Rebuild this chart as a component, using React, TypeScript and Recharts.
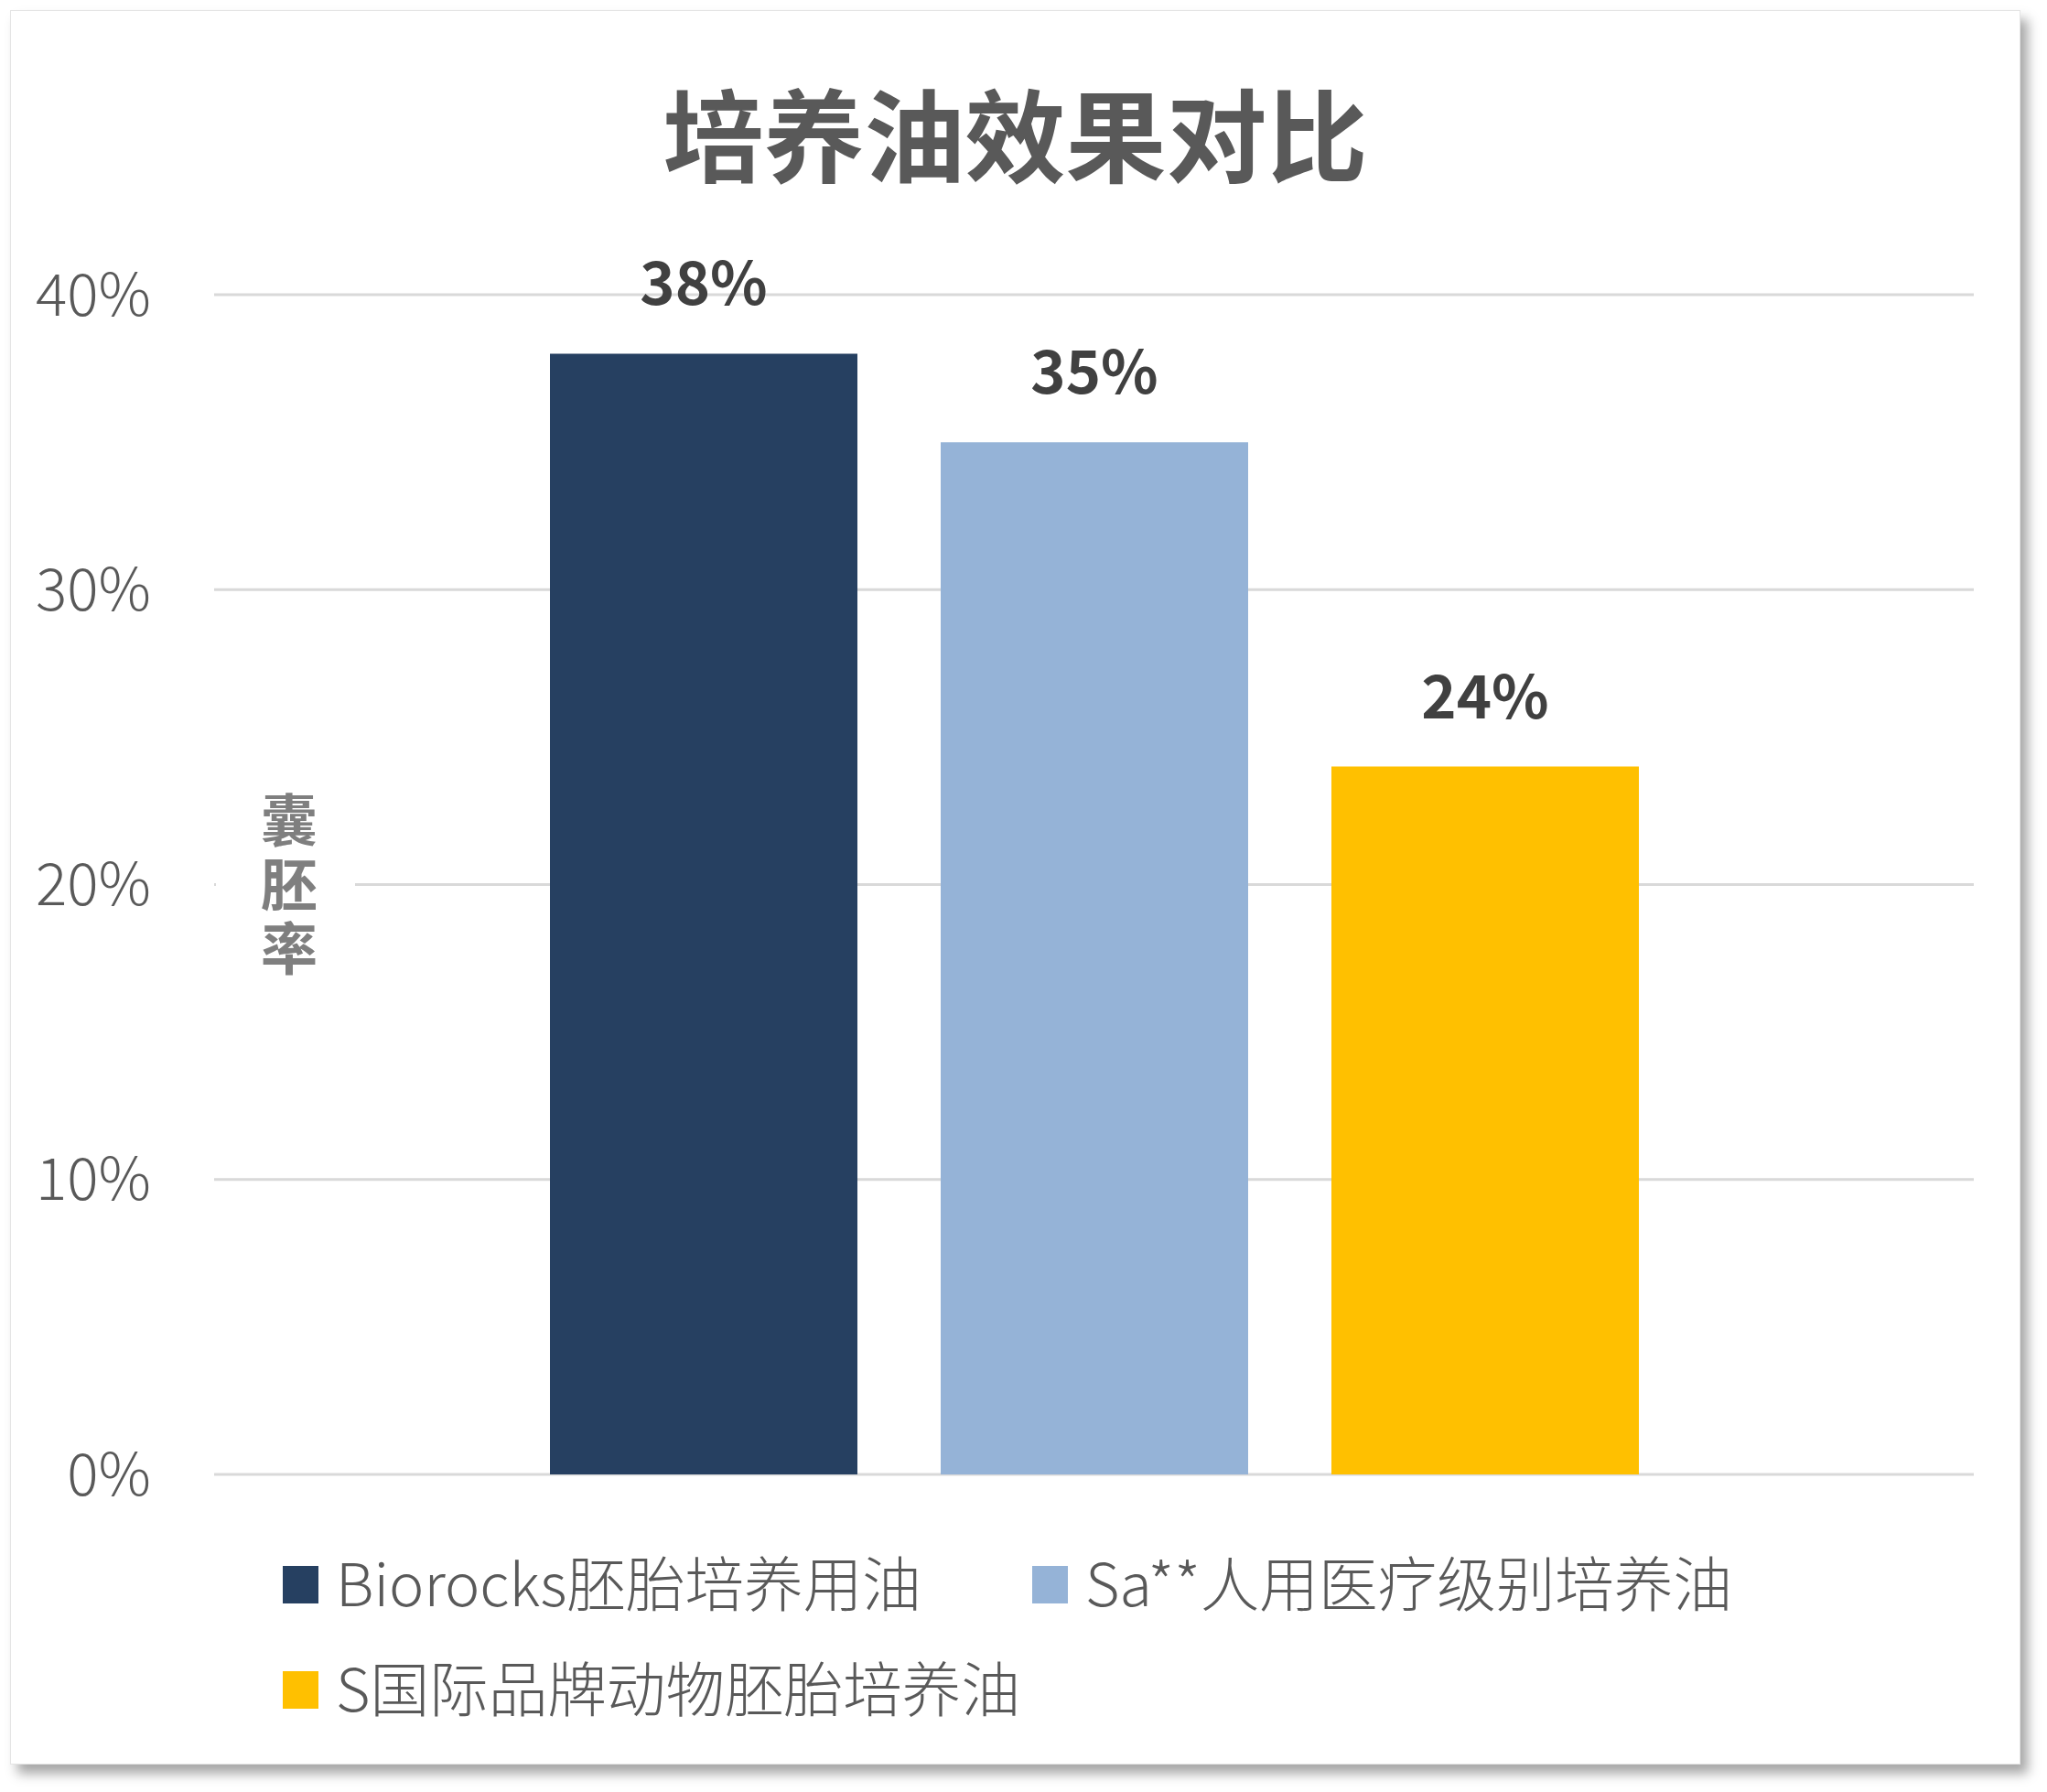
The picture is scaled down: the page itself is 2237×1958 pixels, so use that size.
import { BarChart, Bar, XAxis, YAxis, CartesianGrid, Legend, LabelList } from 'recharts';

const FONT = '"Noto Sans CJK SC", "Noto Sans", sans-serif';

const TITLE = '培养油效果对比';
const CATEGORY = '囊胚率';
const Y_LABEL = '囊胚率';
const SERIES_KEYS = ['biorocks', 'sa', 'sIntl'];
const SERIES_NAMES = ['Biorocks胚胎培养用油', 'Sa**人用医疗级别培养油', 'S国际品牌动物胚胎培养油'];
const SERIES_VALUES = [38, 35, 24];
const SERIES_COLORS = ['#264061', '#95B3D7', '#FFC000'];
const Y_TICKS = [0, 10, 20, 30, 40];

const data = [
  SERIES_KEYS.reduce(
    (row, key, i) => ({ ...row, [key]: SERIES_VALUES[i] }),
    { name: CATEGORY } as Record<string, string | number>
  ),
];

const pct = (v: number | string) => `${v}%`;

// vertical axis title, sits inside the plot with a white box behind it
const YAxisTitle = (props: any) => {
  const { viewBox } = props;
  const cx = viewBox.x + viewBox.width + 82;
  const cy = viewBox.y + viewBox.height / 2 + 4;
  return (
    <g>
      <rect x={cx - 80} y={cy - 120} width={152} height={240} fill="#ffffff" />
      <text
        x={cx}
        y={cy}
        textAnchor="middle"
        fontSize={62}
        fontWeight={700}
        fontFamily={FONT}
        fill="#7f7f7f"
        style={{ writingMode: 'vertical-rl', textOrientation: 'upright', letterSpacing: 8 }}
      >
        {Y_LABEL}
      </text>
    </g>
  );
};

const renderLegend = (props: any) => (
  <div style={{ display: 'flex', flexWrap: 'wrap', columnGap: 121 }}>
    {(props.payload || []).map((entry: any, i: number) => (
      <div key={i} style={{ display: 'flex', alignItems: 'center', height: 115 }}>
        <span
          style={{
            display: 'inline-block',
            width: 39,
            height: 41,
            background: entry.color,
            marginRight: 19,
            marginTop: 8,
          }}
        />
        <span
          style={{
            fontSize: 64.6,
            color: '#595959',
            fontFamily: FONT,
            fontWeight: 300,
            lineHeight: '115px',
            whiteSpace: 'nowrap',
          }}
        >
          {entry.value}
        </span>
      </div>
    ))}
  </div>
);

export default function App() {
  return (
    <div style={{ position: 'absolute', left: 0, top: 0, width: 2237, height: 1958, fontFamily: FONT }}>
      <div
        style={{
          position: 'absolute',
          left: 11,
          top: 11,
          width: 2197,
          height: 1917,
          boxSizing: 'border-box',
          background: '#ffffff',
          border: '1px solid #e4e4e4',
          boxShadow: '8px 10px 12px rgba(0,0,0,0.35)',
        }}
      />
      <div
        style={{
          position: 'absolute',
          left: 11,
          top: 88,
          width: 2197,
          textAlign: 'center',
          fontSize: 110,
          lineHeight: '110px',
          fontWeight: 700,
          color: '#595959',
          fontFamily: FONT,
        }}
      >
        {TITLE}
      </div>
      <div style={{ position: 'absolute', left: 0, top: 0 }}>
        <BarChart
          width={2237}
          height={1958}
          data={data}
          margin={{ top: 322, right: 80, bottom: 347, left: 0 }}
          barSize={336}
          barGap={91}
        >
          <CartesianGrid vertical={false} stroke="#d9d9d9" strokeWidth={3} />
          <XAxis dataKey="name" hide />
          <YAxis
            type="number"
            domain={[0, 40]}
            ticks={Y_TICKS}
            interval={0}
            width={234}
            axisLine={false}
            tickLine={false}
            tickSize={0}
            tickMargin={69}
            tickFormatter={pct}
            tick={{ fill: '#595959', fontSize: 64, fontFamily: FONT, fontWeight: 300 }}
            label={YAxisTitle}
          />
          <Legend
            layout="horizontal"
            align="center"
            verticalAlign="middle"
            wrapperStyle={{ left: 309, top: 1670, width: 1700 }}
            content={renderLegend}
          />
          {SERIES_KEYS.map((key, i) => (
            <Bar key={key} dataKey={key} name={SERIES_NAMES[i]} fill={SERIES_COLORS[i]} isAnimationActive={false}>
              <LabelList
                dataKey={key}
                position="top"
                offset={53}
                formatter={pct}
                fill="#404040"
                fontSize={65}
                fontWeight={700}
                fontFamily={FONT}
              />
            </Bar>
          ))}
        </BarChart>
      </div>
    </div>
  );
}
